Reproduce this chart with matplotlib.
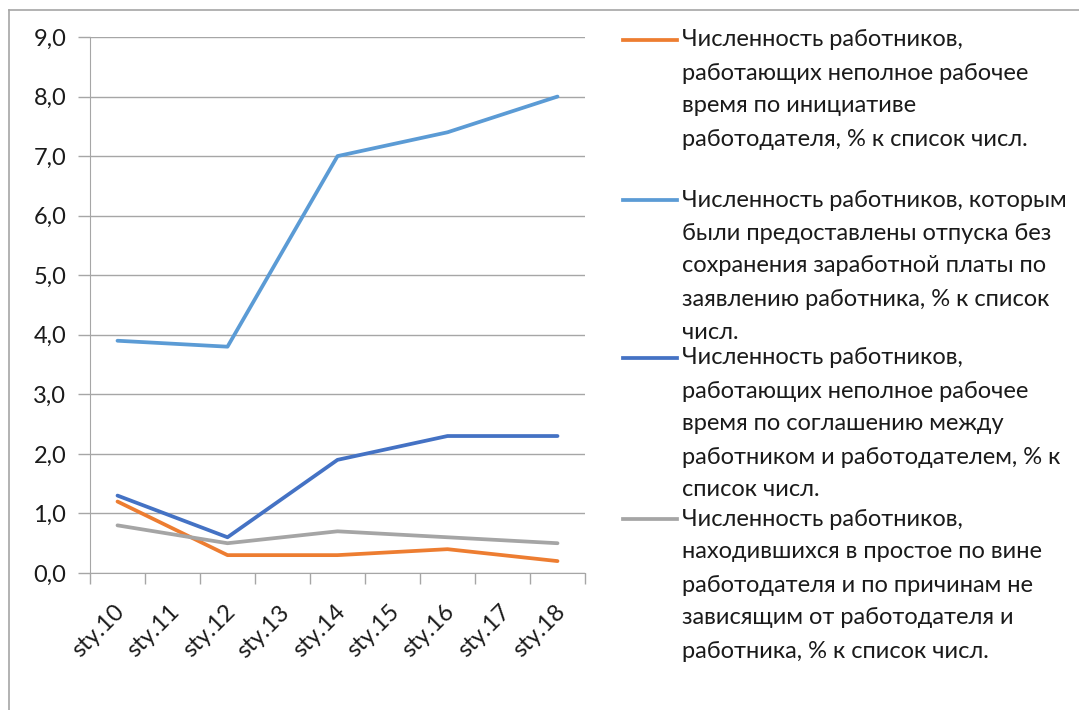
import matplotlib
matplotlib.use("Agg")
from matplotlib import pyplot as plt
from matplotlib.lines import Line2D
from matplotlib.ticker import FuncFormatter
from matplotlib.transforms import ScaledTranslation

plt.rcParams['font.family'] = ['Lato', 'DejaVu Sans']

# categories (every other one carries data)
categories = ['sty.10', 'sty.11', 'sty.12', 'sty.13', 'sty.14',
              'sty.15', 'sty.16', 'sty.17', 'sty.18']
data_idx = [0, 2, 4, 6, 8]

part_time_employer = [1.2, 0.3, 0.3, 0.4, 0.2]
unpaid_leave = [3.9, 3.8, 7.0, 7.4, 8.0]
part_time_agreement = [1.3, 0.6, 1.9, 2.3, 2.3]
idle_time = [0.8, 0.5, 0.7, 0.6, 0.5]

legend_labels = [
    "Численность работников,\nработающих неполное рабочее\nвремя по инициативе\nработодателя, % к список числ.",
    "Численность работников, которым\nбыли предоставлены отпуска без\nсохранения заработной платы по\nзаявлению работника, % к список\nчисл.",
    "Численность работников,\nработающих неполное рабочее\nвремя по соглашению между\nработником и работодателем, % к\nсписок числ.",
    "Численность работников,\nнаходившихся в простое по вине\nработодателя и по причинам не\nзависящим от работодателя и\nработника, % к список числ.",
]
colors = ['#ED7D31', '#5B9BD5', '#4472C4', '#A5A5A5']
series = [part_time_employer, unpaid_leave, part_time_agreement, idle_time]

W, H = 1079, 710
fig = plt.figure(figsize=(W / 100, H / 100), dpi=100)
ax = fig.add_axes([90 / W, 1 - 573 / H, (585 - 90) / W, (573 - 37) / H])

grid_c = '#A6A6A6'
text_c = '#1a1a1a'
fs = 17
lw = 2.7

for vals, c in zip(series, colors):
    ax.plot(data_idx, vals, color=c, lw=lw, solid_capstyle='round',
            solid_joinstyle='round', zorder=3)

ax.set_xlim(-0.5, 8.5)
ax.set_ylim(0, 9)
ax.set_yticks(range(0, 10))
ax.yaxis.set_major_formatter(FuncFormatter(lambda v, p: f"{v:.1f}".replace('.', ',')))
ax.grid(axis='y', color=grid_c, lw=1.0, zorder=0)

ax.set_xticks(range(len(categories)))
ax.set_xticklabels(categories, rotation=45, ha='right', va='center',
                   rotation_mode='anchor')
ax.set_xticks([i - 0.5 for i in range(len(categories) + 1)], minor=True)
ax.tick_params(axis='x', which='major', length=0, pad=20, labelsize=fs,
               labelcolor=text_c)
ax.tick_params(axis='x', which='minor', length=8, color=grid_c, width=1.0)
ax.tick_params(axis='y', length=9, color=grid_c, width=1.0, pad=8, labelsize=fs,
               labelcolor=text_c)
shift = ScaledTranslation(4 / 100, -8 / 100, fig.dpi_scale_trans)
for lbl in ax.get_xticklabels():
    lbl.set_transform(lbl.get_transform() + shift)

for s in ['top', 'right']:
    ax.spines[s].set_visible(False)
ax.spines['left'].set_color(grid_c)
ax.spines['bottom'].set_color(grid_c)

# legend drawn by hand to keep Excel's wrapping
starts = [40, 200, 358, 519]
step = 33
for lab, c, y in zip(legend_labels, colors, starts):
    fig.add_artist(Line2D([623 / W, 677 / W], [1 - y / H, 1 - y / H],
                          color=c, lw=lw, transform=fig.transFigure))
    for k, line in enumerate(lab.split('\n')):
        fig.text(682 / W, 1 - (y + k * step) / H, line, ha='left',
                 va='center', fontsize=fs, color=text_c)

# chart frame (cut off at right and bottom)
fig.add_artist(Line2D([9 / W, 9 / W], [0, 1 - 10 / H], color='#A6A6A6', lw=1.2,
                      transform=fig.transFigure))
fig.add_artist(Line2D([9 / W, 1], [1 - 10 / H, 1 - 10 / H], color='#A6A6A6', lw=1.2,
                      transform=fig.transFigure))

fig.savefig('out.png', dpi=100)
